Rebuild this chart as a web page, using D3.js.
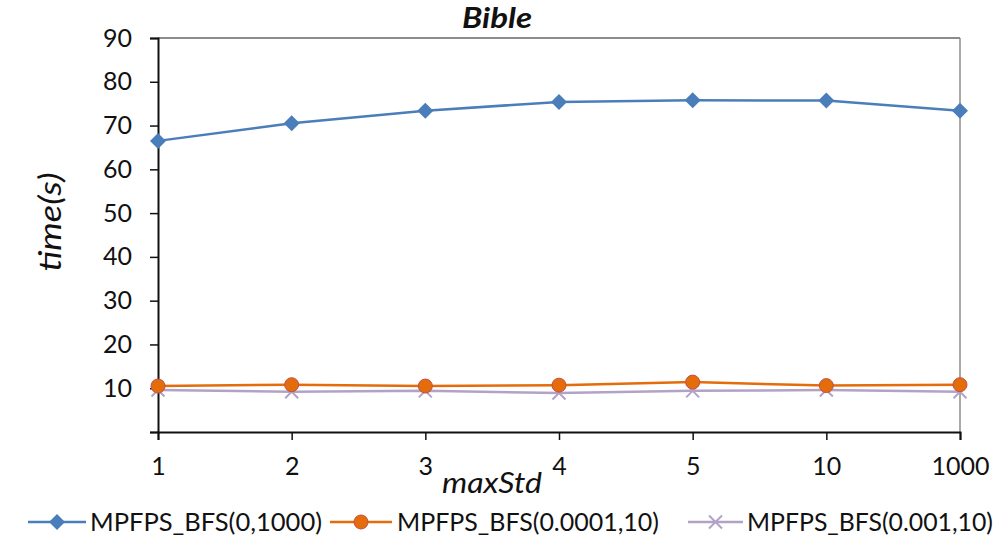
<!DOCTYPE html>
<html>
<head>
<meta charset="utf-8">
<script src="https://cdn.jsdelivr.net/npm/d3@7"></script>
<style>
  html, body { margin: 0; padding: 0; background: #fff; }
  svg { display: block; font-family: Lato, "Open Sans", sans-serif; }
</style>
</head>
<body>
<svg id="chart" width="1004" height="539"></svg>
<script>
// maxStd settings along the x axis
const categories = ["1", "2", "3", "4", "5", "10", "1000"];
// run time in seconds for each configuration
const seriesNames = ["MPFPS_BFS(0,1000)", "MPFPS_BFS(0.0001,10)", "MPFPS_BFS(0.001,10)"];
const bfs0_1000 = [66.5, 70.5, 73.4, 75.4, 75.8, 75.7, 73.4];
const bfs00001_10 = [10.5, 10.8, 10.5, 10.7, 11.4, 10.6, 10.8];
const bfs0001_10 = [9.6, 9.2, 9.4, 8.9, 9.4, 9.6, 9.2];
const yTicks = [10, 20, 30, 40, 50, 60, 70, 80, 90];

const colors = ["#4a7ebb", "#e46c0a", "#b3a2c7"];
const markers = ["diamond", "circle", "cross"];
const series = [bfs0_1000, bfs00001_10, bfs0001_10];

const svg = d3.select("#chart");
const margin = { left: 158, right: 44, top: 38, bottom: 107 };
const W = 1004, H = 539;

const x = d3.scalePoint().domain(categories).range([margin.left, W - margin.right]);
const y = d3.scaleLinear().domain([0, 90]).range([H - margin.bottom, margin.top]);

// plot frame: top and right edges
svg.append("line").attr("x1", margin.left).attr("x2", W - margin.right)
  .attr("y1", y(90)).attr("y2", y(90)).attr("stroke", "#8c8c8c").attr("stroke-width", 2);
svg.append("line").attr("x1", W - margin.right).attr("x2", W - margin.right)
  .attr("y1", y(90)).attr("y2", y(0)).attr("stroke", "#8c8c8c").attr("stroke-width", 1.5);

// y axis
const yAxis = svg.append("g").attr("transform", `translate(${margin.left},0)`)
  .call(d3.axisLeft(y).tickValues([0].concat(yTicks)).tickSize(8).tickPadding(18)
    .tickFormat(d => d === 0 ? "" : d));
yAxis.select(".domain").attr("stroke", "#111").attr("stroke-width", 2);
yAxis.selectAll(".tick line").attr("stroke", "#111").attr("stroke-width", 1.5);
yAxis.selectAll("text").attr("font-size", 25).attr("fill", "#111")
  .attr("font-family", "Lato, sans-serif");

// x axis
const xAxis = svg.append("g").attr("transform", `translate(0,${y(0)})`)
  .call(d3.axisBottom(x).tickSize(8).tickPadding(17));
xAxis.select(".domain").attr("stroke", "#111").attr("stroke-width", 2);
xAxis.selectAll(".tick line").attr("stroke", "#111").attr("stroke-width", 1.5);
xAxis.selectAll("text").attr("font-size", 25).attr("fill", "#111")
  .attr("font-family", "Lato, sans-serif");

// titles
svg.append("text").attr("x", 497).attr("y", 28).attr("text-anchor", "middle")
  .attr("font-size", 28).attr("font-weight", "bold").attr("font-style", "italic")
  .attr("textLength", 70).attr("lengthAdjust", "spacingAndGlyphs")
  .attr("fill", "#111").text("Bible");
svg.append("text").attr("transform", "translate(61,222) rotate(-90)")
  .attr("text-anchor", "middle").attr("font-size", 30).attr("font-style", "italic")
  .attr("textLength", 99).attr("lengthAdjust", "spacingAndGlyphs")
  .attr("fill", "#111").text("time(s)");
svg.append("text").attr("x", 492).attr("y", 493).attr("text-anchor", "middle")
  .attr("font-size", 29).attr("font-style", "italic")
  .attr("textLength", 100).attr("lengthAdjust", "spacingAndGlyphs")
  .attr("fill", "#111").text("maxStd");

function drawMarker(g, type, color, cx, cy, s) {
  if (type === "diamond") {
    g.append("path").attr("d", `M${cx},${cy - s}L${cx + s},${cy}L${cx},${cy + s}L${cx - s},${cy}Z`)
      .attr("fill", color);
  } else if (type === "circle") {
    g.append("circle").attr("cx", cx).attr("cy", cy).attr("r", s - 1)
      .attr("fill", color).attr("stroke", "#c0504d").attr("stroke-width", 1);
  } else {
    g.append("path").attr("d", `M${cx - s},${cy - s}L${cx + s},${cy + s}M${cx - s},${cy + s}L${cx + s},${cy - s}`)
      .attr("stroke", color).attr("stroke-width", 2).attr("fill", "none");
  }
}

const line = d3.line().x((d, i) => x(categories[i])).y(d => y(d));

// draw series from back to front so the first one sits on top
[2, 1, 0].forEach(k => {
  const g = svg.append("g");
  g.append("path").datum(series[k]).attr("d", line).attr("fill", "none")
    .attr("stroke", colors[k]).attr("stroke-width", 2.5);
  series[k].forEach((v, i) => drawMarker(g, markers[k], colors[k], x(categories[i]), y(v),
    k === 2 ? 6.5 : 8));
});

// legend
const legendItems = [
  { x0: 28, x1: 86, tx: 90, len: 232 },
  { x0: 330, x1: 392, tx: 397, len: 262 },
  { x0: 688, x1: 743, tx: 747, len: 246 }
];
const ly = 522;
legendItems.forEach((it, k) => {
  const g = svg.append("g");
  g.append("line").attr("x1", it.x0).attr("x2", it.x1).attr("y1", ly).attr("y2", ly)
    .attr("stroke", colors[k]).attr("stroke-width", 2.5);
  drawMarker(g, markers[k], colors[k], (it.x0 + it.x1) / 2, ly, k === 2 ? 6.5 : 8);
  g.append("text").attr("x", it.tx).attr("y", ly).attr("dy", "0.35em")
    .attr("font-size", 25).attr("fill", "#111")
    .attr("textLength", it.len).attr("lengthAdjust", "spacingAndGlyphs")
    .text(seriesNames[k]);
});
</script>
</body>
</html>
